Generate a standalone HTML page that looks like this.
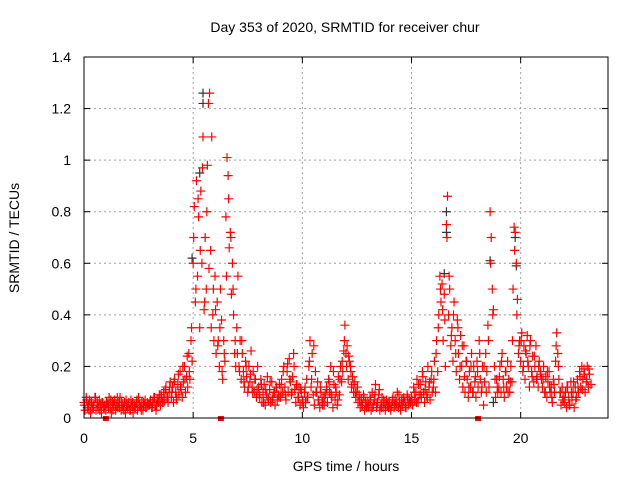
<!DOCTYPE html>
<html><head><meta charset="utf-8"><style>
body{margin:0;background:#fff}
svg{display:block;font-family:"Liberation Sans",sans-serif}
</style></head><body>
<svg id="chart" width="640" height="480" xmlns="http://www.w3.org/2000/svg">
<rect width="640" height="480" fill="#fff"/>
<text x="345" y="32" font-size="14" text-anchor="middle">Day 353 of 2020, SRMTID for receiver chur</text>
<text x="346" y="471" font-size="14" text-anchor="middle">GPS time / hours</text>
<text transform="translate(19,238) rotate(-90)" font-size="14" text-anchor="middle">SRMTID / TECUs</text>
<g id="grid"></g>
<g id="ticks"></g>
<g id="marks"></g>
<rect x="84" y="57" width="524" height="361" fill="none" stroke="#000" stroke-width="1"/>
</svg>
<script>
const xTicks=[0,5,10,15,20];
const yTicks=[0,0.2,0.4,0.6,0.8,1,1.2,1.4];
const yTickLabels=["0","0.2","0.4","0.6","0.8","1","1.2","1.4"];
const step=0.05;
const redValues=[
0.06,0.03,0.08,0.04,0.05,0.07,0.02,0.06,0.04,0.05,0.08,0.03,0.06,0.04,0.07,0.05,0.02,0.06,0.04,0.05,
0.03,0.06,0.05,0.08,0.04,0.02,0.06,0.05,0.07,0.03,0.05,0.04,0.06,0.08,0.03,0.05,0.04,0.06,0.02,0.05,
0.04,0.06,0.03,0.07,0.05,0.02,0.05,0.04,0.06,0.03,0.08,0.05,0.04,0.06,0.03,0.05,0.07,0.04,0.06,0.05,
0.05,0.07,0.04,0.06,0.08,0.05,0.03,0.07,0.06,0.09,0.05,0.08,0.06,0.1,0.07,0.12,0.08,0.06,0.1,0.14,
0.08,0.12,0.06,0.15,0.1,0.07,0.13,0.09,0.18,0.11,0.08,0.14,0.2,0.1,0.16,0.12,0.25,0.15,0.3,0.22,
0.6,0.82,0.45,0.92,0.55,0.78,0.35,0.88,0.6,1.09,0.42,0.7,0.5,0.98,1.22,1.26,0.65,1.09,0.4,0.3,
0.55,0.25,0.45,0.3,0.2,0.5,0.38,0.15,0.3,0.22,0.78,1.01,0.94,0.66,0.72,0.48,0.6,0.4,0.25,0.2,
0.35,0.55,0.2,0.3,0.15,0.25,0.18,0.12,0.22,0.16,0.1,0.2,0.14,0.26,0.12,0.18,0.1,0.15,0.08,0.2,
0.12,0.08,0.15,0.06,0.1,0.13,0.05,0.09,0.16,0.07,0.11,0.06,0.14,0.08,0.1,0.05,0.12,0.07,0.09,0.13,
0.08,0.15,0.1,0.2,0.12,0.07,0.18,0.1,0.23,0.14,0.09,0.16,0.25,0.11,0.06,0.13,0.08,0.12,0.05,0.1,
0.07,0.04,0.1,0.06,0.15,0.08,0.2,0.3,0.12,0.25,0.09,0.05,0.18,0.1,0.14,0.07,0.04,0.1,0.06,0.08,
0.05,0.09,0.12,0.06,0.15,0.1,0.2,0.08,0.04,0.13,0.07,0.1,0.05,0.16,0.09,0.2,0.14,0.18,0.26,0.36,
0.25,0.28,0.15,0.22,0.2,0.12,0.16,0.1,0.14,0.08,0.1,0.06,0.09,0.04,0.07,0.05,0.09,0.03,0.06,0.04,
0.06,0.04,0.08,0.03,0.1,0.05,0.07,0.13,0.04,0.06,0.09,0.03,0.05,0.08,0.04,0.06,0.03,0.07,0.05,0.04,
0.06,0.03,0.05,0.08,0.04,0.07,0.05,0.1,0.04,0.06,0.03,0.07,0.05,0.08,0.06,0.04,0.09,0.05,0.07,0.06,
0.08,0.05,0.12,0.07,0.1,0.15,0.06,0.09,0.13,0.08,0.18,0.1,0.06,0.14,0.09,0.2,0.12,0.07,0.15,0.1,
0.12,0.22,0.1,0.3,0.18,0.4,0.55,0.45,0.52,0.3,0.48,0.2,0.75,0.86,0.4,0.5,0.28,0.35,0.22,0.45,
0.3,0.18,0.38,0.25,0.15,0.32,0.2,0.12,0.28,0.1,0.22,0.15,0.08,0.18,0.12,0.25,0.1,0.2,0.14,0.08,
0.22,0.12,0.3,0.15,0.1,0.2,0.05,0.14,0.25,0.18,0.36,0.12,0.8,0.7,0.5,0.42,0.2,0.08,0.15,0.1,
0.12,0.2,0.1,0.25,0.15,0.08,0.18,0.12,0.22,0.15,0.1,0.2,0.14,0.5,0.74,0.72,0.6,0.46,0.25,0.3,
0.22,0.33,0.18,0.28,0.15,0.25,0.32,0.2,0.12,0.3,0.18,0.24,0.14,0.2,0.28,0.16,0.12,0.22,0.18,0.15,
0.12,0.2,0.1,0.16,0.08,0.14,0.18,0.1,0.12,0.06,0.15,0.1,0.22,0.33,0.25,0.15,0.1,0.05,0.12,0.08,
0.06,0.1,0.04,0.12,0.08,0.05,0.14,0.07,0.1,0.04,0.12,0.08,0.15,0.1,0.18,0.12,0.2,0.15,0.19,0.1,
0.14,0.2,0.12,0.17
];
const step2=0.1;
const offset2=0.025;
const redValues2=[
.05,.07,.03,.06,.04,.08,.05,.03,.06,.04,
.06,.04,.07,.03,.05,.08,.04,.06,.03,.07,
.05,.03,.06,.04,.07,.05,.03,.06,.04,.05,
.06,.04,.08,.05,.07,.09,.06,.11,.08,.12,
.1,.14,.08,.17,.12,.2,.15,.24,.18,.35,
.7,.5,.85,.65,.97,.45,.8,.58,.35,.5,
.42,.28,.35,.18,.25,.55,.85,.7,.5,.3,
.25,.18,.3,.14,.2,.12,.17,.1,.15,.11,
.09,.13,.06,.11,.08,.14,.07,.1,.12,.08,
.12,.18,.09,.21,.15,.1,.2,.13,.08,.11,
.06,.12,.08,.22,.15,.28,.1,.07,.12,.05,
.08,.11,.14,.09,.18,.12,.07,.15,.22,.3,
.2,.24,.18,.13,.1,.12,.07,.05,.08,.05,
.05,.07,.04,.09,.06,.11,.04,.07,.05,.06,
.04,.07,.05,.06,.09,.05,.07,.04,.08,.06,
.07,.1,.06,.13,.09,.16,.11,.08,.14,.18,
.15,.25,.35,.5,.42,.38,.7,.55,.32,.4,
.25,.35,.2,.28,.16,.22,.12,.2,.1,.16,
.18,.25,.12,.2,.1,.3,.6,.4,.15,.12,
.16,.22,.12,.18,.1,.14,.3,.65,.4,.28,
.3,.2,.26,.22,.28,.16,.24,.15,.2,.17,
.15,.1,.18,.12,.08,.13,.28,.2,.1,.07,
.08,.12,.05,.1,.14,.07,.12,.16,.11,.17,
.15,.19,.13
];
const blackHours=[5.45,5.45,4.95,16.6,16.6,16.5,18.6,19.8,19.75,18.75,5.3];
const blackValues=[1.26,1.22,0.62,0.8,0.72,0.56,0.61,0.59,0.7,0.06,0.95];
const zeroHours=[1.0,6.27,18.05];

const X0=84,X1=608,Y0=418,Y1=57,XMAX=24,YMAX=1.4;
const xs=h=>X0+(X1-X0)*h/XMAX;
const ys=v=>Y0-(Y0-Y1)*v/YMAX;
const NS="http://www.w3.org/2000/svg";
function mk(tag,attrs,parent){const e=document.createElementNS(NS,tag);for(const k in attrs)e.setAttribute(k,attrs[k]);parent.appendChild(e);return e;}
const grid=document.getElementById('grid'),ticks=document.getElementById('ticks'),marks=document.getElementById('marks');

xTicks.forEach(t=>{
  const x=xs(t);
  if(t>0){const g=mk('line',{x1:x,x2:x,y1:Y1,y2:Y0,stroke:'#a0a0a0','stroke-dasharray':'2,3'},grid);
  
  }
  const l=mk('line',{x1:x,x2:x,y1:Y0,y2:Y0-6,stroke:'#000'},ticks);
  
  
  const l2=mk('line',{x1:x,x2:x,y1:Y1,y2:Y1+6,stroke:'#000'},ticks);
  
  
  const tx=mk('text',{x:x,y:443,'font-size':14,'text-anchor':'middle'},ticks);
  tx.textContent=String(t);
  
  
});
yTicks.forEach((t,i)=>{
  const y=ys(t);
  if(t>0&&t<YMAX){const g=mk('line',{x1:X0,x2:X1,y1:y,y2:y,stroke:'#a0a0a0','stroke-dasharray':'2,3'},grid);
  
  }
  const l=mk('line',{x1:X0,x2:X0+6,y1:y,y2:y,stroke:'#000'},ticks);
  
  
  const l2=mk('line',{x1:X1,x2:X1-6,y1:y,y2:y,stroke:'#000'},ticks);
  
  
  const tx=mk('text',{x:71,y:y+5,'font-size':14,'text-anchor':'end'},ticks);
  tx.textContent=yTickLabels[i];
  
  
});
function cross(h,v,color){
  const x=xs(h),y=ys(v);
  return mk('path',{d:`M${x-4.5},${y}H${x+4.5}M${x},${y-4.5}V${y+4.5}`,stroke:color,'stroke-width':1.2,fill:'none'},marks);
}
blackHours.forEach((h,i)=>{
  const p=cross(h,blackValues[i],'#333');
  
  
});
redValues.forEach((v,i)=>{
  const p=cross(i*step,v,'#ff0000');
  
  
});
redValues2.forEach((v,i)=>{
  const p=cross(i*step2+offset2,v,'#ff0000');
  
  
});
zeroHours.forEach(h=>{
  const r=mk('rect',{x:xs(h)-3,y:Y0-2,width:6,height:5,fill:'#ff0000'},marks);
  
  
});
</script>
</body></html>
